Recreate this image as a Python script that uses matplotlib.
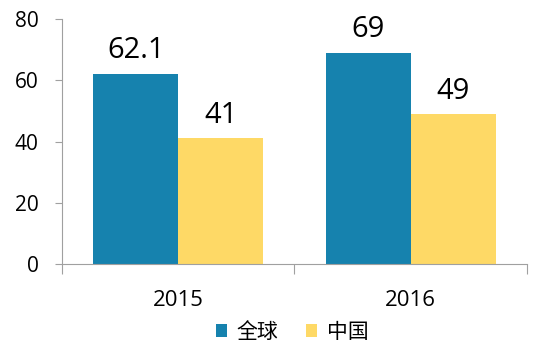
import matplotlib.pyplot as plt
import numpy as np

years = ['2015', '2016']
global_vals = [62.1, 69]
china_vals = [41, 49]
series_names = ['全球', '中国']

plt.rcParams['font.family'] = ['Open Sans', 'Noto Sans CJK SC', 'DejaVu Sans']

fig = plt.figure(figsize=(5.43, 3.54), dpi=100)
ax = fig.add_axes([0.1142, 0.2542, 0.8563, 0.6921])

x = np.arange(len(years))
w = 0.366
b1 = ax.bar(x - w / 2, global_vals, w, color='#1682AE', label=series_names[0])
b2 = ax.bar(x + w / 2, china_vals, w, color='#FED966', label=series_names[1])

for bars, vals in [(b1, global_vals), (b2, china_vals)]:
    for r, v in zip(bars, vals):
        ax.annotate(f'{v:g}', (r.get_x() + r.get_width() / 2, v),
                    xytext=(0, 6), textcoords='offset points',
                    ha='center', va='bottom', fontsize=21)

ax.set_xlim(-0.5, 1.5)
ax.set_ylim(0, 80)
ax.set_yticks([0, 20, 40, 60, 80])
ax.tick_params(axis='y', labelsize=15, color='#A0A0A0', length=5, pad=12)

# category boundary ticks on x axis
ax.set_xticks([-0.5, 0.5, 1.5])
ax.set_xticklabels([])
ax.set_xticks(x, minor=True)
ax.set_xticklabels(years, minor=True, fontsize=16)
ax.tick_params(axis='x', which='major', color='#A0A0A0', length=7, direction='out')
ax.tick_params(axis='x', which='minor', length=0, pad=19)

for s in ['top', 'right']:
    ax.spines[s].set_visible(False)
for s in ['left', 'bottom']:
    ax.spines[s].set_color('#A0A0A0')

fig.legend(handles=[b1, b2], loc='center', bbox_to_anchor=(0.538, 0.062), ncol=2,
           frameon=False, handlelength=0.55, handleheight=0.55, handletextpad=0.45,
           columnspacing=1.3, prop={'family': ['Noto Sans CJK SC'], 'size': 15})

fig.savefig('out.png', dpi=100)
